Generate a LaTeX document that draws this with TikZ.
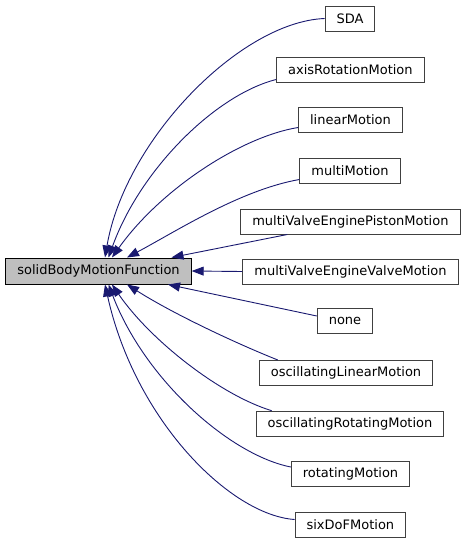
\documentclass[tikz,border=0pt]{standalone}
\usepackage{fontspec}
\setmainfont{DejaVu Sans}
\usepackage{tikz}
\usepackage{xcolor}
\usetikzlibrary{arrows.meta, positioning}
\definecolor{cEdge}{RGB}{25,25,112}
\definecolor{cBase}{RGB}{191,191,191}
\definecolor{cFrame}{RGB}{64,64,64}
\tikzset{
	cls/.style    ={rectangle, draw=cFrame, line width=1pt, fill=white, minimum height=25pt, inner xsep=11.5pt, inner ysep=2pt, align=center},
	basecls/.style={cls, draw=black, fill=cBase, minimum height=26pt},
	inherit/.style={{Triangle[length=12pt, width=9pt, fill=cEdge]}-, draw=cEdge, line width=0.9pt},
}
\begin{document}
\begin{tikzpicture}[x=1pt, y=-1pt, every node/.style={font=\fontsize{13}{15}\selectfont}]
	\useasboundingbox (0,0) rectangle (467,544);
	\node[basecls] (base) at (98.5,271) {solidBodyMotionFunction};
	% derived classes
	\node[cls] (sda)  at (350,18.5)  {SDA};
	\node[cls] (axis) at (350.4,69.5) {axisRotationMotion};
	\node[cls] (lin)  at (350.5,119.5) {linearMotion};
	\node[cls] (mult) at (350,170.5) {multiMotion};
	\node[cls] (pist) at (350.4,221.5) {multiValveEnginePistonMotion};
	\node[cls] (valv) at (350.5,271.5) {multiValveEngineValveMotion};
	\node[cls] (none) at (345,321) {none};
	\node[cls] (oscl) at (346,373) {oscillatingLinearMotion};
	\node[cls] (oscr) at (350,423.7) {oscillatingRotatingMotion};
	\node[cls] (rot)  at (350.5,474) {rotatingMotion};
	\node[cls] (six)  at (350.4,524.5) {sixDoFMotion};
	% inheritance edges
	\draw[inherit] ([xshift=6.5pt]base.north) .. controls (125,140) and (240,22) .. (sda.west);
	\draw[inherit] ([xshift=10pt]base.north) .. controls (140,170) and (215,95) .. ([yshift=3pt]axis.south west);
	\draw[inherit] ([xshift=13.5pt]base.north) .. controls (160,190) and (240,137) .. ([yshift=5pt]lin.south west);
	\draw[inherit] ([xshift=28.5pt]base.north) .. controls (175,232) and (240,190) .. ([yshift=4pt]mult.south west);
	\draw[inherit] ([xshift=73pt]base.north) -- ([xshift=47pt]pist.south west);
	\draw[inherit] (base.east) -- (valv.west);
	\draw[inherit] ([xshift=69.5pt]base.south) -- ([yshift=-8pt]none.north west);
	\draw[inherit] ([xshift=28.5pt]base.south) .. controls (175,315) and (240,345) .. ([xshift=19pt]oscl.north west);
	\draw[inherit] ([xshift=13.5pt]base.south) .. controls (150,340) and (220,395) .. ([xshift=16pt]oscr.north west);
	\draw[inherit] ([xshift=10pt]base.south) .. controls (145,380) and (230,455) .. ([yshift=-6pt]rot.north west);
	\draw[inherit] ([xshift=6.5pt]base.south) .. controls (135,420) and (230,515) .. ([yshift=-8pt]six.north west);
\end{tikzpicture}
\end{document}
